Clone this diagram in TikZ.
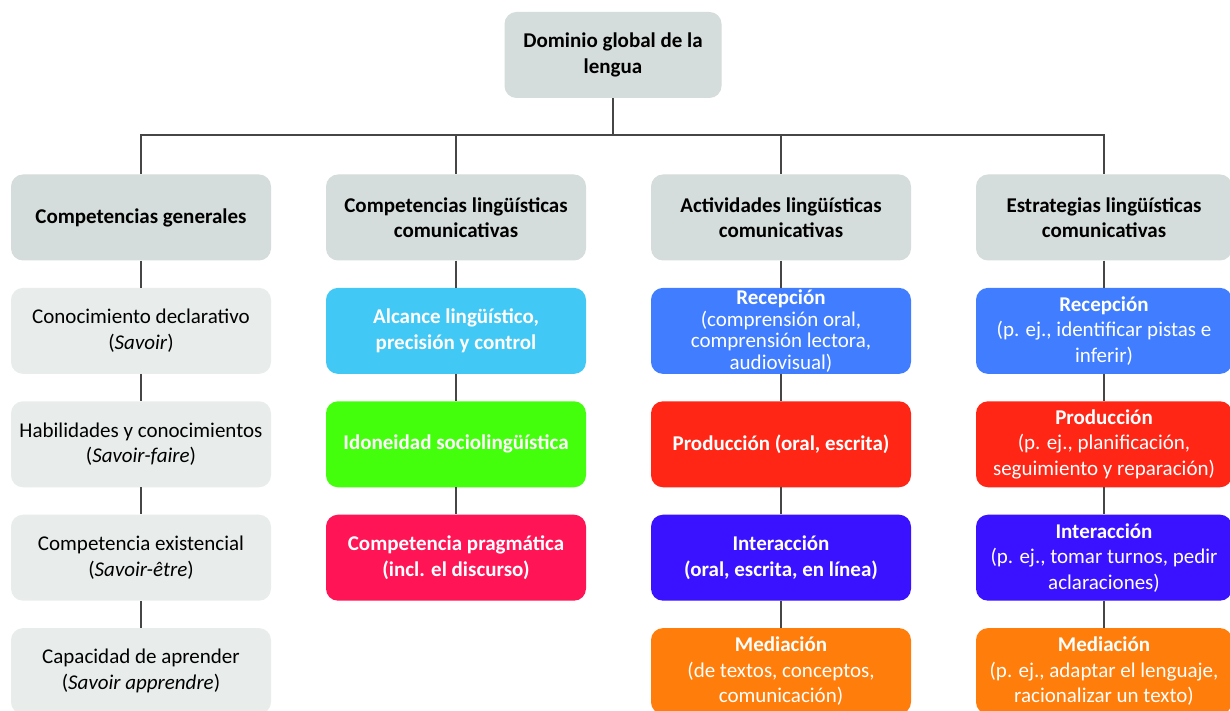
\documentclass[tikz,border=0pt]{standalone}
\usepackage{fontspec}
\setmainfont{Carlito}
\usepackage{tikz}
\usetikzlibrary{positioning}

\definecolor{headgrey}{RGB}{212,221,219}
\definecolor{softgrey}{RGB}{232,237,236}
\definecolor{linegrey}{RGB}{70,70,70}
\definecolor{skyblue}{RGB}{66,200,245}
\definecolor{limegreen}{RGB}{68,255,12}
\definecolor{rosered}{RGB}{255,20,85}
\definecolor{recblue}{RGB}{64,125,255}
\definecolor{prodred}{RGB}{255,38,22}
\definecolor{interviolet}{RGB}{58,18,255}
\definecolor{medorange}{RGB}{255,125,10}

\begin{document}
\begin{tikzpicture}[x=1pt,y=1pt,
		box/.style={rounded corners=12pt, minimum width=260pt, minimum height=86pt,
			align=center, inner sep=2pt, font=\fontsize{21}{25.5}\selectfont},
		head/.style={box, fill=headgrey, font=\fontsize{21}{25.5}\selectfont\bfseries},
		soft/.style={box, fill=softgrey},
		tint/.style={box, fill=#1, text=white},
		upper/.style={execute at end node={\\\mbox{}}},
		link/.style={draw=linegrey, line width=1.1pt},
		node distance=27pt]

	\path[use as bounding box, clip] (0,0) rectangle (1230,711);
	\fill[white] (0,0) rectangle (1230,711);

	% Top
	\node [head,
		minimum width=217pt
		] (dom) at (613,656) {Dominio global de la\\lengua};
	\coordinate (bus) at (613,576);

	% Headers
	\node [head] (cg) at (141,493.5) {Competencias generales};
	\node [head] (cl) at (456,493.5) {Competencias lingüísticas\\comunicativas};
	\node [head] (al) at (781,493.5) {Actividades lingüísticas\\comunicativas};
	\node [head, minimum width=256pt] (el) at (1104,493.5) {Estrategias lingüísticas\\comunicativas};

	% Competencias generales
	\node [soft, below=of cg] (cg1) {Conocimiento declarativo\\(\textit{Savoir})};
	\node [soft, below=of cg1] (cg2) {Habilidades y conocimientos\\(\textit{Savoir-faire})};
	\node [soft, below=of cg2] (cg3) {Competencia existencial\\(\textit{Savoir-être})};
	\node [soft, below=of cg3] (cg4) {Capacidad de aprender\\(\textit{Savoir apprendre})};

	% Competencias linguisticas
	\node [tint=skyblue, upper, font=\fontsize{21}{25.5}\selectfont\bfseries,
		below=of cl
		] (cl1) {Alcance lingüístico,\\precisión y control};
	\node [tint=limegreen, upper, font=\fontsize{21}{25.5}\selectfont\bfseries,
		below=of cl1
		] (cl2) {Idoneidad sociolingüística};
	\node [tint=rosered, upper, font=\fontsize{21}{25.5}\selectfont\bfseries,
		below=of cl2
		] (cl3) {Competencia pragmática\\(incl. el discurso)};

	% Actividades
	\node [tint=recblue, inner sep=0pt, font=\fontsize{21}{21.5}\selectfont,
		below=of al
		] (al1) {\textbf{Recepción}\\(comprensión oral,\\comprensión lectora,\\audiovisual)};
	\node [tint=prodred, upper, font=\fontsize{21}{25.5}\selectfont\bfseries,
		below=of al1
		] (al2) {Producción (oral, escrita)};
	\node [tint=interviolet, upper, font=\fontsize{21}{25.5}\selectfont\bfseries,
		below=of al2
		] (al3) {Interacción\\(oral, escrita, en línea)};
	\node [tint=medorange,
		below=of al3
		] (al4) {\textbf{Mediación}\\(de textos, conceptos,\\comunicación)};

	% Estrategias
	\node [tint=recblue, minimum width=256pt,
		below=of el
		] (el1) {\textbf{Recepción}\\(p. ej., identificar pistas e\\inferir)};
	\node [tint=prodred, minimum width=256pt,
		below=of el1
		] (el2) {\textbf{Producción}\\(p. ej., planificación,\\seguimiento y reparación)};
	\node [tint=interviolet, minimum width=256pt,
		below=of el2
		] (el3) {\textbf{Interacción}\\(p. ej., tomar turnos, pedir\\aclaraciones)};
	\node [tint=medorange, minimum width=256pt,
		below=of el3
		] (el4) {\textbf{Mediación}\\(p. ej., adaptar el lenguaje,\\racionalizar un texto)};

	% Lines
	\foreach \n in {cg,cl,al,el}
		\draw[link] (dom.south) -- (dom.south |- bus) -| (\n.north);
	\foreach \a/\b in {cg/cg1,cg1/cg2,cg2/cg3,cg3/cg4,
			cl/cl1,cl1/cl2,cl2/cl3,
			al/al1,al1/al2,al2/al3,al3/al4,
			el/el1,el1/el2,el2/el3,el3/el4}
		\draw[link] (\a.south) -- (\b.north);

\end{tikzpicture}
\end{document}
